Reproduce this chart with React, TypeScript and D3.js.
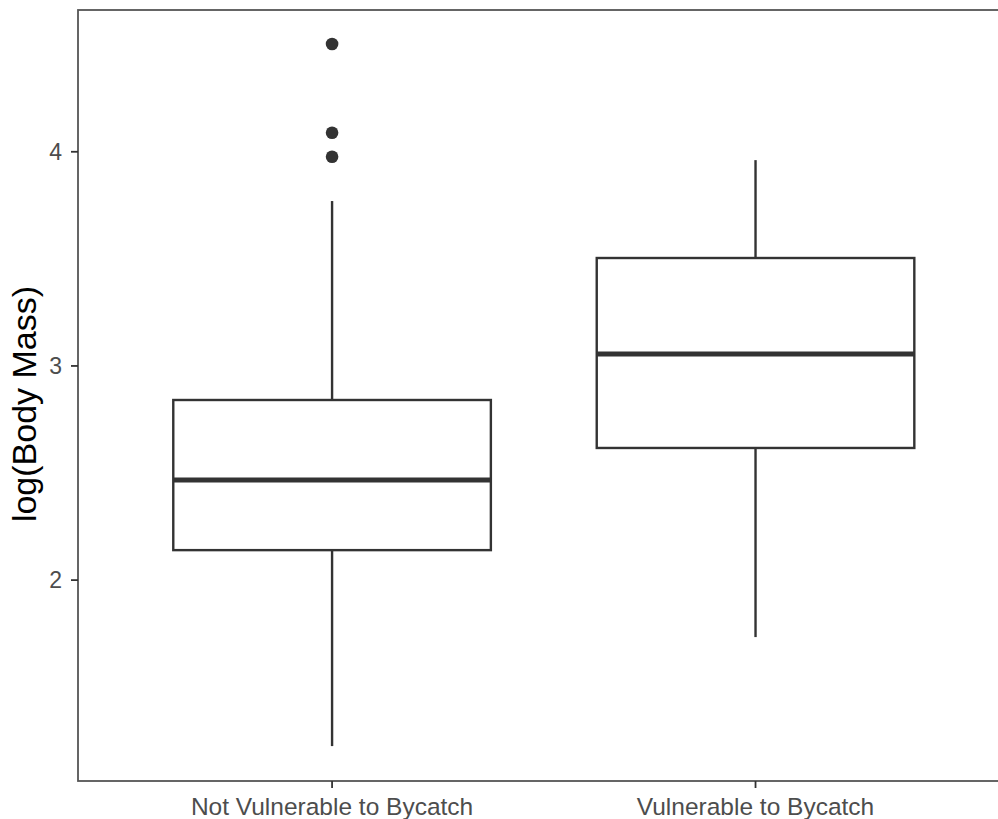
import React from "react";
import * as d3 from "d3";

const categories = ["Not Vulnerable to Bycatch", "Vulnerable to Bycatch"];
const lowerWhisker = [1.225, 1.734];
const q1 = [2.14, 2.617];
const median = [2.467, 3.056];
const q3 = [2.841, 3.504];
const upperWhisker = [3.77, 3.961];
const outliers: number[][] = [[4.503, 4.089, 3.977], []];
const yTicks = [2, 3, 4];

const W = 998;
const H = 819;
const panel = { left: 78, right: 1009.6, top: 10, bottom: 781 };

export default function App() {
  const x = d3.scaleLinear().domain([0.4, categories.length + 0.6]).range([panel.left, panel.right]);
  const y = d3.scaleLinear().domain([1.062, 4.662]).range([panel.bottom, panel.top]);
  const step = x(2) - x(1);
  const bw = step * 0.75;
  const font = "'Liberation Sans', Arial, sans-serif";

  return (
    <svg
      width={W}
      height={H}
      style={{ position: "absolute", left: 0, top: 0, background: "#fff" }}
      fontFamily={font}
    >
      <rect x={0} y={0} width={W} height={H} fill="#fff" />
      {categories.map((c, i) => {
        const cx = x(i + 1);
        return (
          <g key={c}>
            <line x1={cx} x2={cx} y1={y(q3[i])} y2={y(upperWhisker[i])} stroke="#333" strokeWidth={2.4} />
            <line x1={cx} x2={cx} y1={y(q1[i])} y2={y(lowerWhisker[i])} stroke="#333" strokeWidth={2.4} />
            <rect
              x={cx - bw / 2}
              y={y(q3[i])}
              width={bw}
              height={y(q1[i]) - y(q3[i])}
              fill="#fff"
              stroke="#333"
              strokeWidth={2.4}
            />
            <line x1={cx - bw / 2} x2={cx + bw / 2} y1={y(median[i])} y2={y(median[i])} stroke="#333" strokeWidth={5} />
            {outliers[i].map((v, j) => (
              <circle key={j} cx={cx} cy={y(v)} r={6.3} fill="#333" />
            ))}
          </g>
        );
      })}
      <rect
        x={panel.left}
        y={panel.top}
        width={panel.right - panel.left}
        height={panel.bottom - panel.top}
        fill="none"
        stroke="#555"
        strokeWidth={1.8}
      />
      {yTicks.map((t) => (
        <g key={t}>
          <line x1={panel.left - 7} x2={panel.left} y1={y(t)} y2={y(t)} stroke="#333" strokeWidth={1.8} />
          <text x={panel.left - 16} y={y(t)} dy="0.36em" textAnchor="end" fontSize={23} fill="#4d4d4d">
            {t}
          </text>
        </g>
      ))}
      {categories.map((c, i) => (
        <g key={c}>
          <line x1={x(i + 1)} x2={x(i + 1)} y1={panel.bottom} y2={panel.bottom + 7} stroke="#333" strokeWidth={1.8} />
          <text x={x(i + 1)} y={815} textAnchor="middle" fontSize={24.5} fill="#4d4d4d">
            {c}
          </text>
        </g>
      ))}
      <text
        transform={`translate(36, 404) rotate(-90)`}
        textAnchor="middle"
        fontSize={34}
        fill="#000"
      >
        log(Body Mass)
      </text>
    </svg>
  );
}
